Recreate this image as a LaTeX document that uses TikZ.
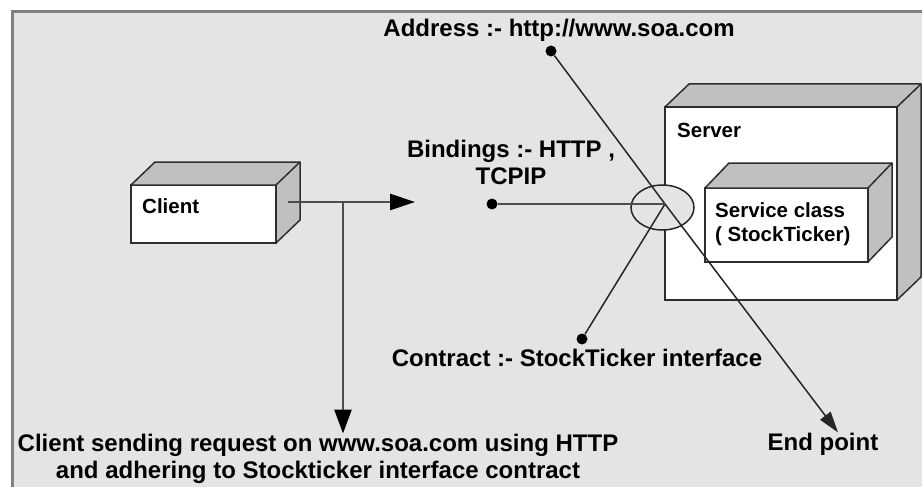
\documentclass[tikz,border=0pt]{standalone}
\usepackage{fontspec}
\setmainfont{Liberation Sans}
\usetikzlibrary{arrows.meta, calc, shapes.geometric}
\definecolor{panelgray}{HTML}{E4E4E4}
\definecolor{framegray}{HTML}{808080}
\definecolor{facegray}{HTML}{C0C0C0}
\definecolor{edgegray}{HTML}{2E2E2E}
\definecolor{wiregray}{HTML}{4D4D4D}
\tikzset{
	frontface/.style={
			rectangle,
			draw=edgegray,
			fill=white,
			line width=1.5pt,
			inner sep=0pt,
			outer sep=0pt
		},
	sideface/.style={
			draw=edgegray,
			fill=facegray,
			line width=1.5pt,
			line join=round
		},
	portring/.style={
			ellipse,
			draw=black!85,
			fill=panelgray,
			line width=1.5pt,
			minimum width=63pt,
			minimum height=45pt,
			inner sep=0pt
		},
	dot/.style={
			circle,
			fill=black,
			minimum size=11pt,
			inner sep=0pt
		}
}
\tikzset{
	labeltext/.style={font=\fontsize{24}{27}\selectfont\bfseries, align=center, inner sep=0pt},
	boxtext/.style={font=\fontsize{20.5}{24}\selectfont\bfseries, align=left, inner sep=0pt}
}
\tikzset{
	wire/.style={draw=black!85, line width=1.5pt},
	fatwire/.style={draw=wiregray, line width=2.8pt}
}
% top and right faces of a box drawn on a front node
\newcommand{\boxsides}[3]{%
  \filldraw[sideface] (#1.north west) -- ([shift={(#2,-#3)}]#1.north west)
    -- ([shift={(#2,-#3)}]#1.north east) -- ([shift={(#2,-#3)}]#1.south east)
    -- (#1.south east) -- (#1.north east) -- cycle;
  \draw[sideface] (#1.north east) -- ([shift={(#2,-#3)}]#1.north east);
}

\begin{document}
\begin{tikzpicture}[x=1pt,y=-1pt]
  \useasboundingbox (0,0) rectangle (922,487);
  \fill[white] (0,0) rectangle (922,487);
  \filldraw[fill=panelgray, draw=framegray, line width=3pt] (12,12) rectangle (940,505);

  % client
  \node[frontface, minimum width=145, minimum height=58] (client) at (203.5,214) {};
  \boxsides{client}{24}{23}
  \node[boxtext, anchor=base west] (clientlbl) at (142,213) {Client};

  % server with the service class inside
  \node[frontface, minimum width=232, minimum height=193] (server) at (781,203.5) {};
  \boxsides{server}{24}{23}
  \node[boxtext, anchor=base west] (serverlbl) at (677,137) {Server};
  \node[frontface, minimum width=163, minimum height=74] (svc) at (786.5,225) {};
  \boxsides{svc}{24}{25}
  \node[boxtext, anchor=north west] (svclbl) at (715,202) {Service class\\( StockTicker)};

  % end point ring
  \node[portring] (port) at (662.5,207.5) {};
  \coordinate (hub) at (665,204);

  \node[dot] (adrdot) at (551,51) {};
  \node[dot] (binddot) at (492,204) {};
  \node[dot] (condot) at (582,339) {};

  \node[labeltext, anchor=base] (adrlbl) at (559,37) {Address :- http://www.soa.com};
  \node[labeltext, anchor=north] (bindlbl) at (511,139.5) {Bindings :- HTTP ,\\TCPIP};
  \node[labeltext, anchor=base] (conlbl) at (577,366) {Contract :- StockTicker interface};
  \node[labeltext, anchor=base] (endlbl) at (823,450) {End point};
  \node[labeltext, anchor=north] (reqlbl) at (318,433.5) {Client sending request on www.soa.com using HTTP\\and adhering to Stockticker interface contract};

  \draw[wire] (adrdot) -- (hub);
  \draw[wire] (condot) -- (hub);
  \draw[wire, -{Triangle[length=21pt,width=13pt]}] (hub) -- ([xshift=15pt]endlbl.north);
  \draw[fatwire] (binddot) -- (hub);

  % request from the client
  \coordinate (cout) at (288,202);
  \coordinate (split) at (343,202);
  \coordinate (reqtip) at (415,202);
  \draw[fatwire, -{Triangle[length=25pt,width=16pt,color=black]}] (cout) -- (reqtip);
  \draw[fatwire, -{Triangle[length=24pt,width=17pt,color=black]}] (split) -- (split |- reqlbl.north);
\end{tikzpicture}
\end{document}
